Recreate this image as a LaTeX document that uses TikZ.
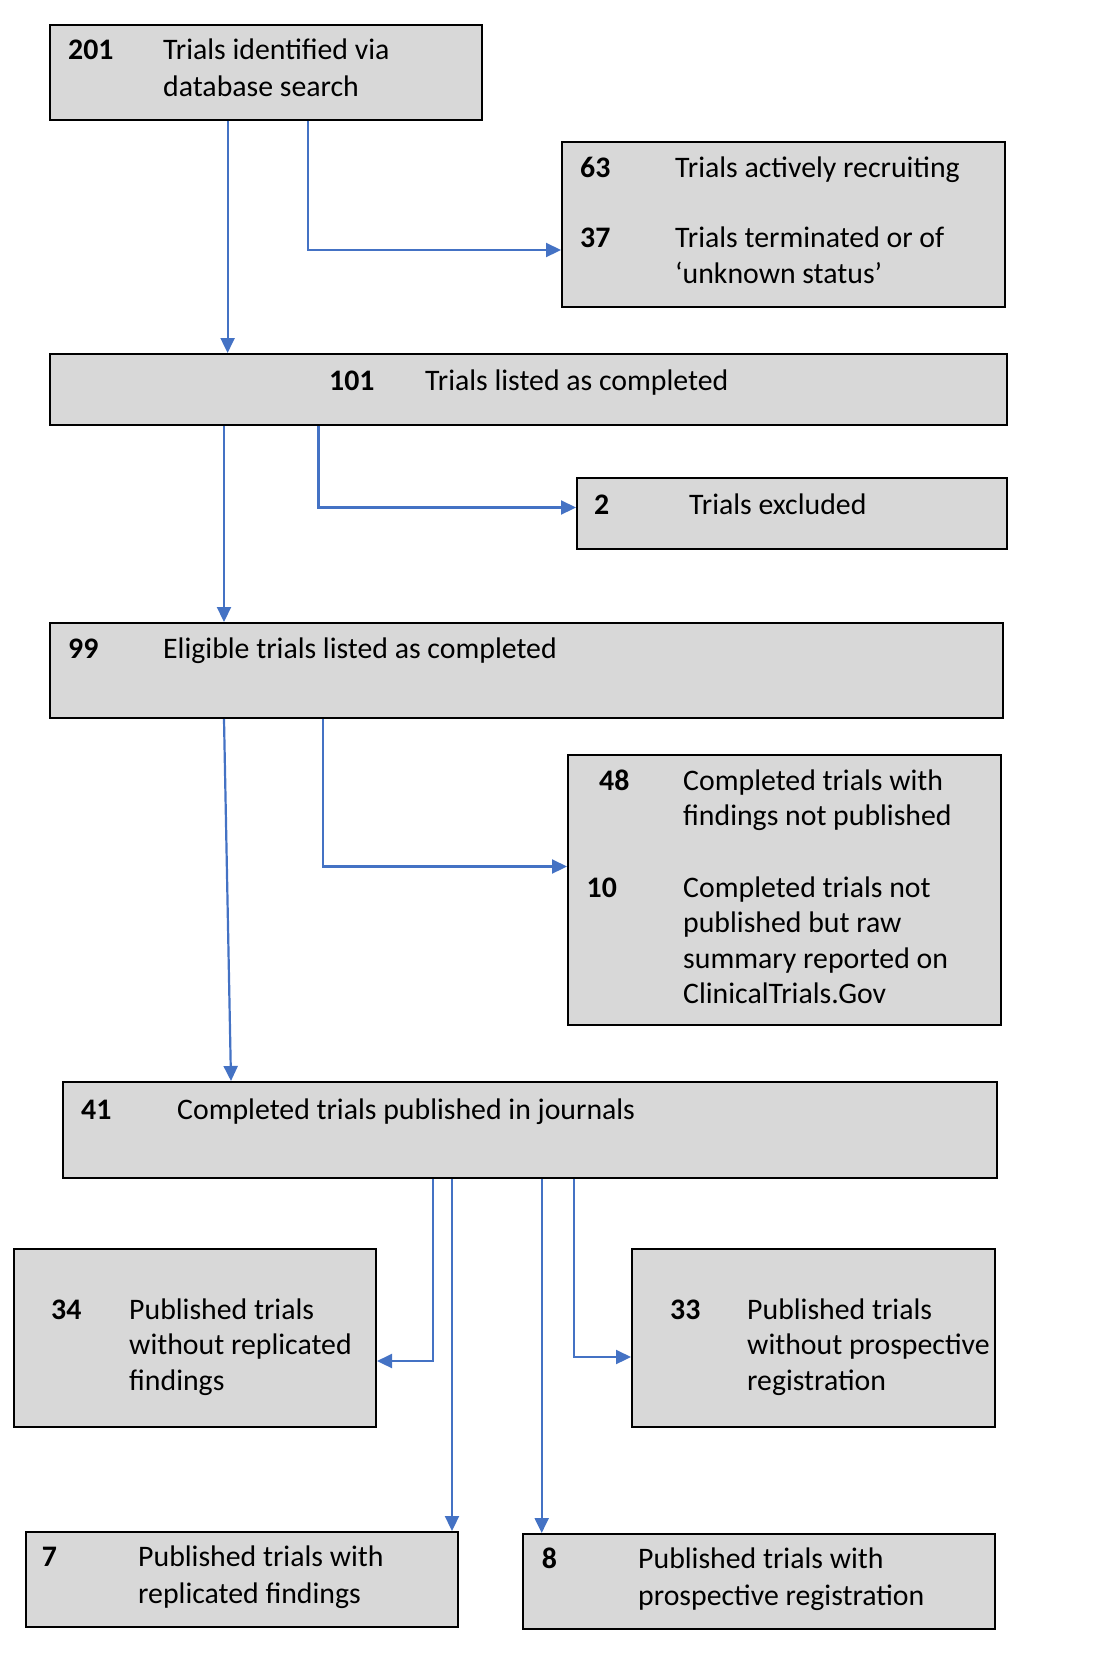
\documentclass[tikz,border=0pt]{standalone}
\usepackage{fontspec}
\setmainfont{Carlito}
\usetikzlibrary{positioning,arrows.meta}
\definecolor{flowBlue}{HTML}{4472C4}
\definecolor{boxGray}{HTML}{D8D8D8}
\newcommand{\flowFont}{\fontsize{29.8}{35.5}\selectfont}
\newcommand{\stackLines}[1]{\begin{tabular}[t]{@{}l@{}}#1\end{tabular}}
\tikzset{
  box/.style={rectangle, fill=boxGray, draw=black, line width=2pt, anchor=north west, inner sep=0pt},
  countText/.style={anchor=base west, inner sep=0pt, font={\flowFont\bfseries}},
  descText/.style={anchor=base west, inner sep=0pt, font=\flowFont},
  flowArrow/.style={draw=flowBlue, line width=2.2pt, -{Triangle[length=15pt,width=14pt]}}
}
\begin{document}
\begin{tikzpicture}[x=1pt, y=-1pt]
  \useasboundingbox (0,0) rectangle (1093,1676);
  % boxes
  \node [box, minimum width=432pt, minimum height=95pt] (searchBox) at (49,23.5) {};
  \node [box, minimum width=443pt, minimum height=165pt] (ongoingBox) at (561,141) {};
  \node [box, minimum width=957pt, minimum height=71pt] (listedBox) at (49,353) {};
  \node [box, minimum width=430pt, minimum height=71.5pt] (exclBox) at (576,476.5) {};
  \node [box, minimum width=953pt, minimum height=95pt] (eligBox) at (49,622) {};
  \node [box, minimum width=433pt, minimum height=270pt] (unpubBox) at (567,754) {};
  \node [box, minimum width=934pt, minimum height=96pt] (journalBox) at (62,1081) {};
  \node [box, minimum width=362pt, minimum height=178pt] (noRepBox) at (13,1248) {};
  \node [box, minimum width=363pt, minimum height=178pt] (noRegBox) at (631,1248) {};
  \node [box, minimum width=432pt, minimum height=95pt] (repBox) at (25,1531) {};
  \node [box, minimum width=472pt, minimum height=95pt] (regBox) at (522,1533) {};

  % texts
  \node [countText] (searchN) at (68,59) {201};
  \node [descText] (searchT) at (163,59) {\stackLines{Trials identified via\\[2pt]database search}};
  \node [countText] (recruitN) at (580,177) {63};
  \node [descText] (recruitT) at (675,177) {Trials actively recruiting};
  \node [countText] (termN) at (580,247) {37};
  \node [descText] (termT) at (675,247) {\stackLines{Trials terminated or of\\[1pt]‘unknown status’}};
  \node [countText] (listedN) at (329,390) {101};
  \node [descText] (listedT) at (425,390) {Trials listed as completed};
  \node [countText] (exclN) at (594,514) {2};
  \node [descText] (exclT) at (689,514) {Trials excluded};
  \node [countText] (eligN) at (68,658.5) {99};
  \node [descText] (eligT) at (163,658.5) {Eligible trials listed as completed};
  \node [countText] (unpubN) at (599,790) {48};
  \node [descText] (unpubT) at (683,790) {\stackLines{Completed trials with\\findings not published}};
  \node [countText] (rawN) at (586.5,897) {10};
  \node [descText] (rawT) at (683,897) {\stackLines{Completed trials not\\published but raw\\summary reported on\\ClinicalTrials.Gov}};
  \node [countText] (journalN) at (81,1119) {41};
  \node [descText] (journalT) at (177,1119) {Completed trials published in journals};
  \node [countText] (noRepN) at (51,1319) {34};
  \node [descText] (noRepT) at (129,1319) {\stackLines{Published trials\\without replicated\\findings}};
  \node [countText] (noRegN) at (670,1319) {33};
  \node [descText] (noRegT) at (747,1319) {\stackLines{Published trials\\without prospective\\registration}};
  \node [countText] (repN) at (41.7,1566) {7};
  \node [descText] (repT) at (138,1566) {\stackLines{Published trials with\\[2pt]replicated findings}};
  \node [countText] (regN) at (541.7,1568) {8};
  \node [descText] (regT) at (638,1568) {\stackLines{Published trials with\\[2pt]prospective registration}};

  % connectors
  \draw [flowArrow] ([xshift=178.6pt]searchBox.south west) -- ([xshift=178.6pt]listedBox.north west);
  \draw [flowArrow] ([xshift=258.7pt]searchBox.south west) |- ([yshift=-109pt]ongoingBox.north west);
  \draw [flowArrow] ([xshift=175pt]listedBox.south west) -- ([xshift=175pt]eligBox.north west);
  \draw [flowArrow] ([xshift=269.4pt]listedBox.south west) |- ([yshift=-31pt]exclBox.north west);
  \draw [flowArrow] ([xshift=175pt]eligBox.south west) -- ([xshift=169pt]journalBox.north west);
  \draw [flowArrow] ([xshift=273.7pt]eligBox.south west) |- ([yshift=-112.5pt]unpubBox.north west);
  \draw [flowArrow] ([xshift=370.7pt]journalBox.south west) |- ([yshift=-113pt]noRepBox.north east);
  \draw [flowArrow] ([xshift=390pt]journalBox.south west) -- ([xshift=427pt]repBox.north west);
  \draw [flowArrow] ([xshift=479.7pt]journalBox.south west) -- ([xshift=19.7pt]regBox.north west);
  \draw [flowArrow] ([xshift=511.7pt]journalBox.south west) |- ([yshift=-109pt]noRegBox.north west);
\end{tikzpicture}
\end{document}
